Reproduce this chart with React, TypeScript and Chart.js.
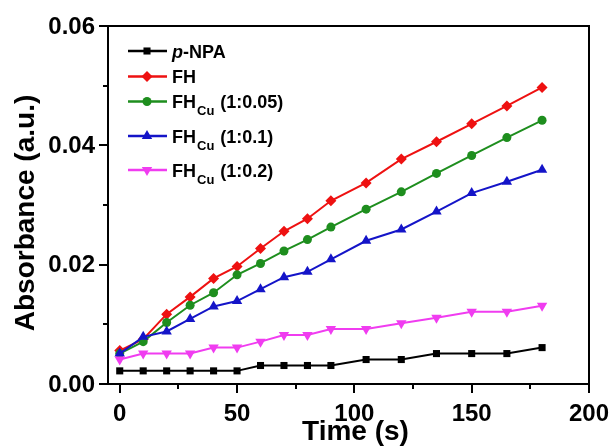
import React, { useEffect, useRef } from 'react';
import { Chart, registerables } from 'chart.js';

Chart.register(...registerables);

const times = [0, 10, 20, 30, 40, 50, 60, 70, 80, 90, 105, 120, 135, 150, 165, 180];
const pNPA = [0.0022, 0.0022, 0.0022, 0.0022, 0.0022, 0.0022, 0.0031, 0.0031, 0.0031, 0.0031, 0.0041, 0.0041, 0.0051, 0.0051, 0.0051, 0.0061];
const fh = [0.0056, 0.0075, 0.0117, 0.0146, 0.0177, 0.0197, 0.0227, 0.0256, 0.0277, 0.0307, 0.0337, 0.0377, 0.0406, 0.0436, 0.0466, 0.0497];
const fhCu005 = [0.0051, 0.0071, 0.0103, 0.0132, 0.0153, 0.0183, 0.0202, 0.0223, 0.0242, 0.0263, 0.0293, 0.0322, 0.0353, 0.0383, 0.0413, 0.0442];
const fhCu01 = [0.0051, 0.0079, 0.0088, 0.0109, 0.0130, 0.0139, 0.0159, 0.0179, 0.0188, 0.0209, 0.0240, 0.0259, 0.0289, 0.0320, 0.0339, 0.0359];
const fhCu02 = [0.0041, 0.0051, 0.0051, 0.0051, 0.0061, 0.0061, 0.0071, 0.0082, 0.0082, 0.0092, 0.0092, 0.0102, 0.0111, 0.0121, 0.0121, 0.0131];

const seriesValues = [pNPA, fh, fhCu005, fhCu01, fhCu02];
// label parts: [italic prefix, main, subscript, suffix]
const seriesLabels = [
  ['p', '-NPA', '', ''],
  ['', 'FH', '', ''],
  ['', 'FH', 'Cu', '(1:0.05)'],
  ['', 'FH', 'Cu', '(1:0.1)'],
  ['', 'FH', 'Cu', '(1:0.2)'],
];
const seriesColors = ['#000000', '#EE1111', '#1E8E1E', '#1414C8', '#F03CF0'];
const seriesShapes = ['rect', 'rectRot', 'circle', 'triangle', 'triangleDown'];
const seriesRadii = [5, 5.5, 4.5, 6, 6];

const xMajorTicks = [0, 50, 100, 150, 200];
const xMinorTicks = [25, 75, 125, 175];
const yMajorTicks = [0, 0.02, 0.04, 0.06];
const yMinorTicks = [0.01, 0.03, 0.05];
const xTitle = 'Time (s)';
const yTitle = 'Absorbance (a.u.)';

const FONT = '"Liberation Sans", Arial, sans-serif';

function drawMarker(ctx: CanvasRenderingContext2D, shape: string, x: number, y: number, r: number, color: string) {
  ctx.save();
  ctx.fillStyle = color;
  ctx.beginPath();
  if (shape === 'rect') {
    const s = r / Math.SQRT2;
    ctx.rect(x - s, y - s, 2 * s, 2 * s);
  } else if (shape === 'rectRot') {
    ctx.moveTo(x, y - r);
    ctx.lineTo(x + r, y);
    ctx.lineTo(x, y + r);
    ctx.lineTo(x - r, y);
    ctx.closePath();
  } else if (shape === 'circle') {
    ctx.arc(x, y, r, 0, Math.PI * 2);
  } else {
    const dir = shape === 'triangle' ? 1 : -1;
    for (let i = 0; i < 3; i++) {
      const a = (i * 2 * Math.PI) / 3;
      const px = x + Math.sin(a) * r;
      const py = y - dir * Math.cos(a) * r;
      if (i === 0) ctx.moveTo(px, py);
      else ctx.lineTo(px, py);
    }
    ctx.closePath();
  }
  ctx.fill();
  ctx.restore();
}

const decorPlugin = {
  id: 'decor',
  afterDraw(chart: any) {
    const ctx: CanvasRenderingContext2D = chart.ctx;
    const xs = chart.scales.x;
    const ys = chart.scales.y;
    const { left, right, top, bottom } = chart.chartArea;
    ctx.save();
    ctx.strokeStyle = '#000';
    ctx.lineWidth = 2;
    ctx.strokeRect(left, top, right - left, bottom - top);
    ctx.beginPath();
    xMajorTicks.forEach((v) => {
      const px = Math.round(xs.getPixelForValue(v));
      ctx.moveTo(px, bottom);
      ctx.lineTo(px, bottom + 9);
    });
    xMinorTicks.forEach((v) => {
      const px = Math.round(xs.getPixelForValue(v));
      ctx.moveTo(px, bottom);
      ctx.lineTo(px, bottom + 5);
    });
    yMajorTicks.forEach((v) => {
      const py = Math.round(ys.getPixelForValue(v));
      ctx.moveTo(left, py);
      ctx.lineTo(left - 9, py);
    });
    yMinorTicks.forEach((v) => {
      const py = Math.round(ys.getPixelForValue(v));
      ctx.moveTo(left, py);
      ctx.lineTo(left - 5, py);
    });
    ctx.stroke();

    ctx.fillStyle = '#000';
    ctx.font = 'bold 24px ' + FONT;
    ctx.textAlign = 'right';
    ctx.textBaseline = 'middle';
    yMajorTicks.forEach((v) => {
      ctx.fillText(v.toFixed(2), left - 13, ys.getPixelForValue(v) + 1);
    });
    ctx.textAlign = 'center';
    ctx.textBaseline = 'alphabetic';
    xMajorTicks.forEach((v) => {
      ctx.fillText(String(v), xs.getPixelForValue(v), bottom + 37);
    });

    ctx.font = 'bold 28px ' + FONT;
    ctx.fillText(xTitle, (left + right) / 2 + 7, 440);
    ctx.save();
    ctx.translate(34, 213);
    ctx.rotate(-Math.PI / 2);
    ctx.fillText(yTitle, 0, 0);
    ctx.restore();

    // legend
    const rowY = [51, 76.5, 101.5, 136, 170];
    seriesLabels.forEach((parts, i) => {
      const y = rowY[i];
      ctx.strokeStyle = seriesColors[i];
      ctx.lineWidth = 2.5;
      ctx.beginPath();
      ctx.moveTo(128, y);
      ctx.lineTo(167, y);
      ctx.stroke();
      drawMarker(ctx, seriesShapes[i], 147, y, seriesRadii[i], seriesColors[i]);
      ctx.fillStyle = '#000';
      ctx.textAlign = 'left';
      ctx.textBaseline = 'alphabetic';
      let x = 172;
      const base = y + 6.5;
      if (parts[0]) {
        ctx.font = 'italic bold 18px ' + FONT;
        ctx.fillText(parts[0], x, base);
        x += ctx.measureText(parts[0]).width;
      }
      ctx.font = 'bold 18px ' + FONT;
      ctx.fillText(parts[1], x, base);
      x += ctx.measureText(parts[1]).width;
      if (parts[2]) {
        ctx.font = 'bold 13px ' + FONT;
        ctx.fillText(parts[2], x + 1, base + 7);
        x += ctx.measureText(parts[2]).width + 1;
      }
      if (parts[3]) {
        ctx.font = 'bold 18px ' + FONT;
        ctx.fillText(parts[3], x + 6, base);
      }
    });
    ctx.restore();
  },
};

export default function App() {
  const ref = useRef<HTMLCanvasElement>(null);
  useEffect(() => {
    if (!ref.current) return;
    const chart = new Chart(ref.current, {
      type: 'line',
      data: {
        labels: times,
        datasets: seriesValues.map((vals, i) => ({
          label: seriesLabels[i].join(''),
          data: times.map((t, j) => ({ x: t, y: vals[j] })),
          borderColor: seriesColors[i],
          backgroundColor: seriesColors[i],
          borderWidth: 2,
          pointStyle: seriesShapes[i] === 'triangleDown' ? 'triangle' : seriesShapes[i],
          rotation: seriesShapes[i] === 'triangleDown' ? 180 : 0,
          pointRadius: seriesRadii[i],
          pointBorderWidth: 0,
          pointBackgroundColor: seriesColors[i],
          pointBorderColor: seriesColors[i],
          tension: 0,
          order: seriesValues.length - i,
          clip: false,
        })),
      } as any,
      options: {
        responsive: false,
        animation: false,
        events: [],
        layout: { padding: { left: 0, right: 26, top: 26, bottom: 0 } },
        plugins: { legend: { display: false }, tooltip: { enabled: false } },
        scales: {
          x: {
            type: 'linear',
            min: -5,
            max: 200,
            grid: { display: false },
            border: { display: false },
            ticks: { display: false },
            afterFit: (s: any) => { s.height = 62; },
          },
          y: {
            type: 'linear',
            min: 0,
            max: 0.06,
            grid: { display: false },
            border: { display: false },
            ticks: { display: false },
            afterFit: (s: any) => { s.width = 108; },
          },
        },
      } as any,
      plugins: [decorPlugin],
    });
    return () => chart.destroy();
  }, []);
  return (
    <div style={{ position: 'fixed', left: 0, top: 0, width: 615, height: 446, background: '#fff' }}>
      <canvas ref={ref} width={615} height={446} style={{ display: 'block' }} />
    </div>
  );
}
